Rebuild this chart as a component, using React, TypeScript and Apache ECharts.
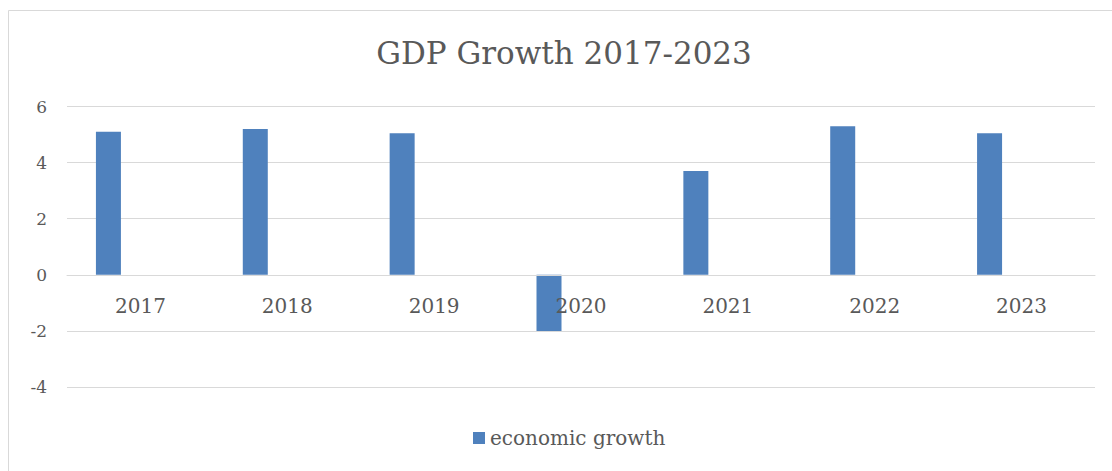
import React, { useEffect, useRef } from "react";
import * as echarts from "echarts";

const categories = ["2017", "2018", "2019", "2020", "2021", "2022", "2023"];
const growth = [5.1, 5.2, 5.05, -2.0, 3.7, 5.3, 5.05];
const seriesName = "economic growth";
const titleText = "GDP Growth 2017-2023";
const yMin = -4;
const yMax = 6;
const yStep = 2;

const FONT = "DejaVu Serif";
const TEXT_COLOR = "#595959";
const GRID_COLOR = "#d9d9d9";
const BAR_COLOR = "#4f81bd";

const GRID_TOP = 106.5;
const GRID_BOTTOM = 84;
const CHART_H = 471;

export default function App() {
  const ref = useRef<HTMLDivElement>(null);
  useEffect(() => {
    if (!ref.current) return;
    const chart = echarts.init(ref.current, null, { renderer: "svg" });
    const empty = categories.map(() => null);
    const plotH = CHART_H - GRID_TOP - GRID_BOTTOM;
    const zeroOffset = -((0 - yMin) / (yMax - yMin)) * plotH;
    chart.setOption({
      animation: false,
      backgroundColor: "#ffffff",
      grid: { left: 67, right: 17, top: GRID_TOP, bottom: GRID_BOTTOM, containLabel: false },
      graphic: [
        {
          type: "rect",
          shape: { x: 8.5, y: 10.5, width: 1200, height: 600 },
          style: { fill: "none", stroke: GRID_COLOR, lineWidth: 1 },
          silent: true,
        },
        {
          type: "text",
          x: 564,
          y: 53,
          style: {
            text: titleText,
            font: `31px '${FONT}'`,
            fill: TEXT_COLOR,
            textAlign: "center",
            textVerticalAlign: "middle",
          },
        },
      ],
      legend: {
        data: [seriesName],
        left: 473,
        top: 428,
        padding: 0,
        icon: "rect",
        itemWidth: 12,
        itemHeight: 12,
        itemGap: 6,
        textStyle: { fontFamily: FONT, fontSize: 20, color: TEXT_COLOR },
      },
      xAxis: {
        type: "category",
        data: categories,
        position: "bottom",
        offset: zeroOffset,
        z: 5,
        axisLine: { onZero: false, lineStyle: { color: GRID_COLOR, width: 1 } },
        axisTick: { show: false },
        axisLabel: { fontFamily: FONT, fontSize: 20, color: TEXT_COLOR, margin: 21 },
      },
      yAxis: {
        type: "value",
        min: yMin,
        max: yMax,
        interval: yStep,
        axisLine: { show: false },
        axisTick: { show: false },
        splitLine: { lineStyle: { color: GRID_COLOR, width: 1 } },
        axisLabel: { fontFamily: FONT, fontSize: 17, color: TEXT_COLOR, margin: 20 },
      },
      series: [
        {
          name: seriesName,
          type: "bar",
          data: growth,
          barWidth: 25,
          barGap: "28%",
          itemStyle: { color: BAR_COLOR },
        },
        { name: "_pad1", type: "bar", data: empty, barWidth: 25, barGap: "28%" },
        { name: "_pad2", type: "bar", data: empty, barWidth: 25, barGap: "28%" },
      ],
    });
    return () => chart.dispose();
  }, []);
  return (
    <div
      ref={ref}
      style={{ position: "absolute", left: 0, top: 0, width: 1112, height: 471 }}
    />
  );
}
